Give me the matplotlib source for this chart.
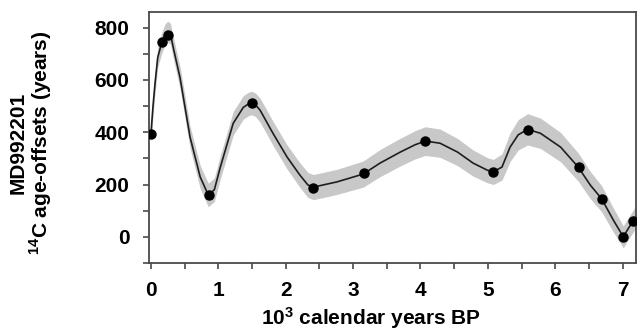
#!/usr/bin/env python3
"""
MD992201 14C age-offsets against calendar age, smoothed curve with error band.
"""

import matplotlib
matplotlib.use("Agg")
import matplotlib.pyplot as plt
import numpy as np

plt.rcParams["font.family"] = ["Liberation Sans", "DejaVu Sans"]
plt.rcParams["mathtext.fontset"] = "custom"
plt.rcParams["mathtext.bf"] = "Liberation Sans:bold"
plt.rcParams["mathtext.rm"] = "Liberation Sans:bold"

# measured age-offsets (10^3 cal yr BP, years)
point_age = [0.00, 0.16, 0.25, 0.86, 1.50, 2.40, 3.16, 4.07, 5.08, 5.59, 6.36, 6.69, 7.00, 7.16]
point_offset = [395, 745, 773, 160, 510, 188, 244, 366, 246, 410, 267, 143, -2, 61]

# smoothed curve
curve_age = [0.00, 0.03, 0.06, 0.10, 0.16, 0.21, 0.25, 0.29, 0.33, 0.43, 0.58, 0.73,
             0.85, 0.94, 1.03, 1.22, 1.37, 1.44, 1.49, 1.55, 1.62, 1.81, 2.02, 2.21,
             2.33, 2.41, 2.76, 3.15, 3.40, 3.70, 3.92, 4.07, 4.29, 4.55, 4.78, 4.99,
             5.08, 5.21, 5.33, 5.45, 5.59, 5.78, 6.08, 6.34, 6.52, 6.69, 6.86, 7.01,
             7.09, 7.16, 7.20]
curve_offset = [396, 500, 587, 686, 743, 775, 785, 776, 724, 610, 381, 229,
                160, 180, 267, 434, 495, 507, 512, 505, 484, 396, 305, 236,
                198, 190, 210, 240, 282, 324, 352, 366, 358, 324, 282, 255,
                248, 267, 343, 390, 411, 396, 343, 267, 198, 145, 65, 0,
                34, 61, 80]
curve_sigma = [38, 38, 38, 38, 40, 40, 40, 40, 40, 42, 42, 44,
               45, 45, 45, 45, 45, 45, 45, 45, 46, 46, 46, 47,
               48, 48, 48, 50, 52, 53, 54, 55, 54, 52, 50, 48,
               48, 50, 55, 58, 60, 58, 56, 54, 52, 50, 46, 42,
               42, 42, 42]


def main():
    fig = plt.figure(figsize=(6.38, 3.32), dpi=100)
    ax = fig.add_axes([0.2335, 0.208, 0.7635, 0.756])

    x = np.array(curve_age)
    y = np.array(curve_offset)
    s = np.array(curve_sigma)
    ax.fill_between(x, y - s, y + s, color="#c8c8c8", linewidth=0, zorder=1)
    ax.plot(x, y, color="#1e1e1e", linewidth=1.2, zorder=2)
    ax.plot(point_age, point_offset, "o", color="black", markersize=6.5, zorder=3)

    ax.set_xlim(-0.03, 7.2)
    ax.set_ylim(-100, 860)
    ax.set_xticks(range(0, 8))
    ax.set_xticks(np.arange(0.5, 7.2, 1.0), minor=True)
    ax.set_yticks([0, 200, 400, 600, 800])
    ax.set_yticks([-100, 100, 300, 500, 700], minor=True)

    for side in ax.spines.values():
        side.set_color("#4a4a4a")
        side.set_linewidth(1.3)
    ax.tick_params(which="both", direction="out", length=4, width=1.2, color="#4a4a4a")
    ax.tick_params(axis="y", pad=10, labelsize=15)
    ax.tick_params(axis="x", pad=9, labelsize=15)
    for lab in ax.get_xticklabels() + ax.get_yticklabels():
        lab.set_fontweight("bold")

    # axis titles placed by hand, as in the original
    fig.text(371 / 638, 1 - 325 / 332, r"10$\mathbf{^{3}}$ calendar years BP",
             fontsize=15, fontweight="bold", ha="center", va="baseline")
    fig.text(31 / 638, 1 - 143 / 332,
             "MD992201\n" + r"${}^{\mathbf{14}}$C age-offsets (years)",
             fontsize=15, fontweight="bold", rotation=90, ha="center", va="center",
             multialignment="center", linespacing=1.0)

    fig.savefig("out.png", dpi=100)
    plt.close(fig)


if __name__ == "__main__":
    main()
